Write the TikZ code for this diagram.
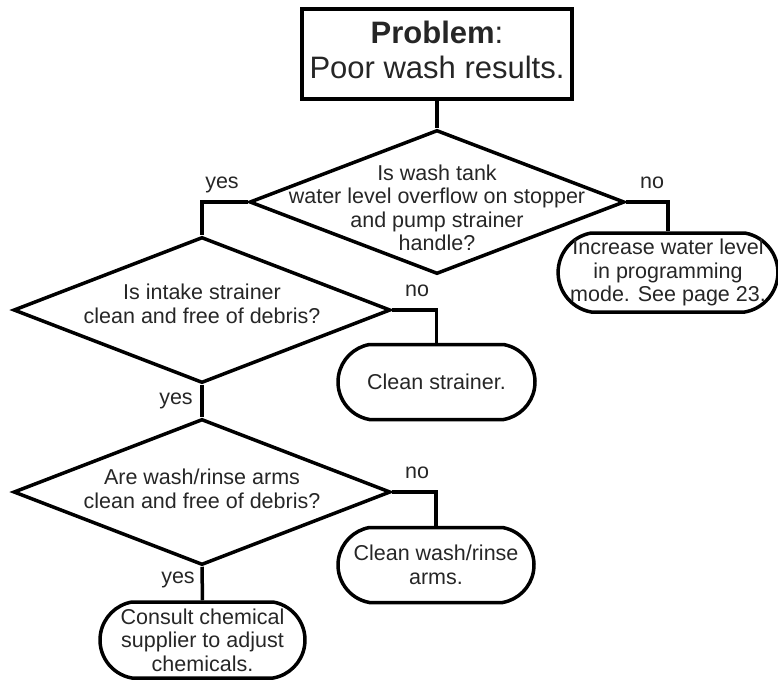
\documentclass[tikz,border=0pt]{standalone}
\usepackage{fontspec}
\setmainfont{Liberation Sans}
\usetikzlibrary{shapes.geometric,shapes.misc}
\begin{document}
\begin{tikzpicture}[x=1pt,y=-1pt,
  line width=3.5pt,
  txtfont/.style={font=\fontsize{21.5}{23.5}\selectfont, text=black!85},
  dia/.style={draw, diamond, inner sep=0pt, line join=miter},
  dtext/.style={txtfont, align=center, inner sep=0pt},
  term/.style={draw, rounded rectangle, rounded rectangle arc length=160, txtfont, align=center, inner sep=0pt},
  lbl/.style={txtfont, inner sep=0pt},
  conn/.style={line width=3.5pt, line join=miter}]
\useasboundingbox (0,0) rectangle (778,683);

% start box
\node[draw, line width=4pt, minimum width=270pt, minimum height=90pt, align=center,
      font=\fontsize{31}{35}\selectfont, text=black!85, inner sep=0pt]
  (prob) at (437,54) {\textbf{Problem}:\\Poor wash results.\rule[-9pt]{0pt}{0pt}};

% decisions
\node[dia, minimum width=375pt, minimum height=144pt] (d1) at (437,202) {};
\node[dtext] (t1) at (437,208) {Is wash tank\\water level overflow on stopper\\and pump strainer\\handle?};

\node[dia, minimum width=377pt, minimum height=146pt] (d2) at (202,310) {};
\node[dtext] (t2) at (202,304) {Is intake strainer\\clean and free of debris?};

\node[dia, minimum width=377pt, minimum height=146pt] (d3) at (202,492) {};
\node[dtext] (t3) at (202,489) {Are wash/rinse arms\\clean and free of debris?};

% terminals
\node[term, minimum width=217pt, minimum height=79pt, inner xsep=-6pt] (inc) at (668,272.5)
  {Increase water level\\in programming\\mode. See page 23.};
\node[term, minimum width=197pt, minimum height=75pt] (cs) at (436.5,382) {Clean strainer.};
\node[term, minimum width=196pt, minimum height=75pt] (cw) at (436,565) {Clean wash/rinse\\arms.};
\node[term, minimum width=205pt, minimum height=76pt] (cons) at (202.5,640)
  {Consult chemical\\supplier to adjust\\chemicals.};

% labels
\node[lbl] (yes1) at (222,185) {yes};
\node[lbl] (no1) at (652,183) {no};
\node[lbl] (no2) at (417,291) {no};
\node[lbl] (yes2) at (176,401) {yes};
\node[lbl] (no3) at (417,473) {no};
\node[lbl] (yes3) at (178,580) {yes};

% connectors
\draw[conn] (prob.south) -- (d1.north);
\draw[conn] (d1.west) -| (d2.north);
\draw[conn] (d1.east) -| (inc.north);
\draw[conn] (d2.east) -| (cs.north);
\draw[conn] (d2.south) -- (d3.north);
\draw[conn] (d3.east) -| (cw.north);
\draw[conn] (d3.south) -- (cons.north);
\end{tikzpicture}
\end{document}
